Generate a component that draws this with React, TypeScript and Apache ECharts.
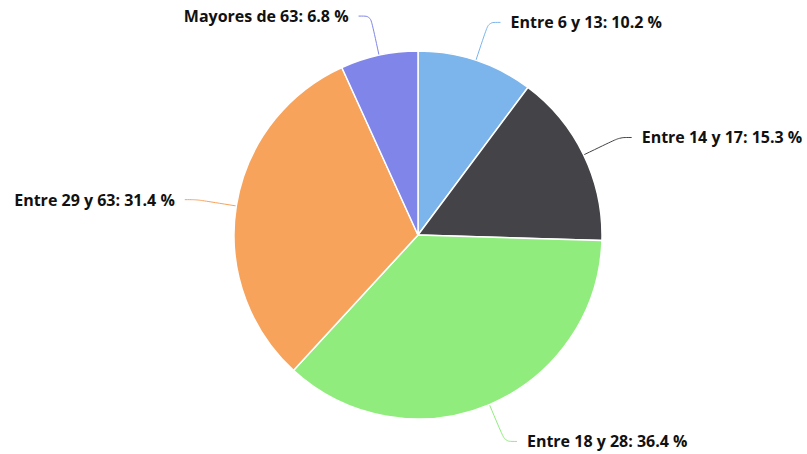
import React, { useEffect, useRef } from "react";
import * as echarts from "echarts";

const categories = ["Entre 6 y 13", "Entre 14 y 17", "Entre 18 y 28", "Entre 29 y 63", "Mayores de 63"];
const values = [10.2, 15.3, 36.4, 31.4, 6.8];
const colors = ["#7cb5ec", "#434348", "#90ed7d", "#f7a35c", "#8085e9"];

export default function App() {
  const ref = useRef<HTMLDivElement>(null);
  useEffect(() => {
    const chart = echarts.init(ref.current!, null, { renderer: "svg" });
    chart.setOption({
      animation: false,
      backgroundColor: "#ffffff",
      series: [
        {
          type: "pie",
          center: [418, 235],
          radius: [0, 184],
          startAngle: 90,
          clockwise: true,
          avoidLabelOverlap: true,
          data: categories.map((c, i) => ({
            name: c,
            value: values[i],
            itemStyle: { color: colors[i] },
            labelLine: { lineStyle: { color: colors[i] } },
          })),
          itemStyle: { borderColor: "#ffffff", borderWidth: 1.5 },
          label: {
            show: true,
            position: "outside",
            formatter: (p: any) => `${p.name}: ${p.value.toFixed(1)} %`,
            fontFamily: "Open Sans",
            fontWeight: "bold",
            fontSize: 16,
            color: "#111111",
            distanceToLabelLine: 10,
            overflow: "none",
          },
          labelLine: { show: true, length: 40, length2: 12, smooth: 0.3, lineStyle: { width: 1 } },
          emphasis: { disabled: true },
        },
      ],
    });
    return () => chart.dispose();
  }, []);
  return <div ref={ref} style={{ position: "fixed", left: 0, top: 0, width: 807, height: 454 }} />;
}
